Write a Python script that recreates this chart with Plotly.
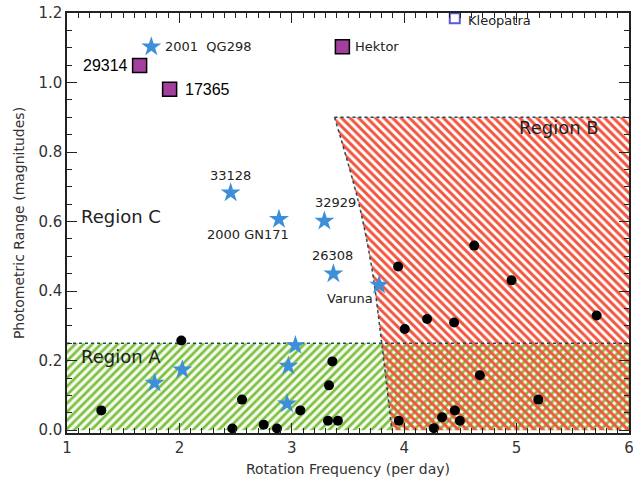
import plotly.graph_objects as go

# ---- data ----
dots_x = [1.305, 2.017, 2.557, 2.471, 2.75, 2.868, 3.076, 3.361, 3.331, 3.322, 3.41,
          3.946, 4.005, 4.204, 4.444, 4.623, 4.955, 5.712, 4.673, 5.193, 3.952, 4.264,
          4.337, 4.451, 4.495]
dots_y = [0.057, 0.258, 0.088, 0.005, 0.016, 0.005, 0.057, 0.198, 0.129, 0.027, 0.027,
          0.471, 0.291, 0.32, 0.31, 0.531, 0.431, 0.33, 0.158, 0.088, 0.027, 0.006,
          0.037, 0.057, 0.027]

stars_x = [1.75, 2.456, 2.886, 3.29, 3.37, 3.777, 1.779, 2.026, 3.032, 2.969, 2.957]
stars_y = [1.103, 0.683, 0.607, 0.602, 0.45, 0.418, 0.136, 0.174, 0.244, 0.185, 0.076]

sq_names = ["29314", "17365", "Hektor"]
sq_x = [1.646, 1.913, 3.45]
sq_y = [1.049, 0.981, 1.103]

open_x = [4.45]
open_y = [1.185]

# region boundaries
regA_x = [1, 6, 6, 1]
regA_y = [0, 0, 0.25, 0.25]
curve_x = [3.38, 3.59, 3.71, 3.80, 3.89]
curve_y = [0.9, 0.66, 0.47, 0.25, 0.0]
regB_top = 0.9
regA_top = 0.25

# labels: text, x, y, anchor
labels = [
    ("2001  QG298", 1.85, 1.103, "left", 13),
    ("Hektor", 3.54, 1.103, "left", 13),
    ("Kleopatra", 4.55, 1.178, "left", 13),
    ("33128", 2.456, 0.734, "center", 13),
    ("2000 GN171", 2.607, 0.562, "center", 13),
    ("32929", 3.39, 0.654, "center", 13),
    ("26308", 3.364, 0.502, "center", 13),
    ("Varuna", 3.516, 0.378, "center", 13),
]
num_labels = [
    ("29314", 1.557, 1.048, "right"),
    ("17365", 2.03, 0.979, "left"),
]
region_labels = [
    ("Region C", 1.11, 0.614),
    ("Region A", 1.11, 0.211),
    ("Region B", 5.0, 0.872),
]

GREEN = "#7cc040"
RED = "#f2553e"
DOT = "#1d4b5c"
fig = go.Figure()

# Region A (green hatched)
fig.add_trace(go.Scatter(
    x=regA_x + [regA_x[0]], y=regA_y + [regA_y[0]], mode="none", fill="toself",
    fillcolor="rgba(0,0,0,0)",
    fillpattern=dict(shape="/", fgcolor=GREEN, bgcolor="#f7fbef", size=6, solidity=0.45,
                     fillmode="replace"),
    hoverinfo="skip", showlegend=False))

# Region B (red hatched)
bx = curve_x + [6, 6, curve_x[0]]
by = curve_y + [0, regB_top, curve_y[0]]
fig.add_trace(go.Scatter(
    x=bx, y=by, mode="none", fill="toself", fillcolor="rgba(0,0,0,0)",
    fillpattern=dict(shape="\\", fgcolor=RED, bgcolor="rgba(0,0,0,0)", size=6, solidity=0.5,
                     fillmode="replace"),
    hoverinfo="skip", showlegend=False))

# dotted borders
fig.add_trace(go.Scatter(x=[1, 6], y=[regA_top, regA_top], mode="lines",
                         line=dict(color=DOT, width=1.5, dash="dot"), hoverinfo="skip", showlegend=False))
fig.add_trace(go.Scatter(x=[curve_x[0], 6], y=[regB_top, regB_top], mode="lines",
                         line=dict(color=DOT, width=1.5, dash="dot"), hoverinfo="skip", showlegend=False))
fig.add_trace(go.Scatter(x=curve_x, y=curve_y, mode="lines",
                         line=dict(color=DOT, width=1.5, dash="dot", shape="spline"),
                         hoverinfo="skip", showlegend=False))

# points
fig.add_trace(go.Scatter(x=dots_x, y=dots_y, mode="markers",
                         marker=dict(symbol="circle", size=10, color="black"),
                         cliponaxis=False, showlegend=False))
fig.add_trace(go.Scatter(x=stars_x, y=stars_y, mode="markers",
                         marker=dict(symbol="star", size=15, color="#3d8fd8", line=dict(width=0)),
                         cliponaxis=False, showlegend=False))
fig.add_trace(go.Scatter(x=sq_x, y=sq_y, mode="markers",
                         marker=dict(symbol="square", size=14, color="#a3409e",
                                     line=dict(color="black", width=1.5)),
                         cliponaxis=False, showlegend=False))
fig.add_trace(go.Scatter(x=open_x, y=open_y, mode="markers",
                         marker=dict(symbol="square-open", size=10, color="#5a5ad8",
                                     line=dict(width=2)),
                         cliponaxis=False, showlegend=False))

LBL_FONT = "DejaVu Sans"
for t, x, y, anc, sz in labels:
    fig.add_annotation(x=x, y=y, text=t, showarrow=False, xanchor=anc, yanchor="middle",
                       font=dict(family=LBL_FONT, size=sz, color="#222222"))
for t, x, y, anc in num_labels:
    fig.add_annotation(x=x, y=y, text=t, showarrow=False, xanchor=anc, yanchor="middle",
                       font=dict(family="Liberation Sans", size=16, color="black"))
for t, x, y in region_labels:
    fig.add_annotation(x=x, y=y, text=t, showarrow=False, xanchor="left", yanchor="middle",
                       font=dict(family=LBL_FONT, size=18, color="#222222"))

axis_common = dict(showgrid=False, zeroline=False, showline=True, linecolor="#222222",
                   linewidth=1.5, mirror="allticks", ticks="inside", ticklen=10,
                   tickcolor="#222222", tickwidth=1.2, automargin=False,
                   ticklabeloverflow="allow",
                   tickfont=dict(family=LBL_FONT, size=15, color="#333333"))

fig.update_xaxes(range=[1, 6], tick0=1, dtick=1,
                 minor=dict(ticks="inside", ticklen=5, dtick=0.1, tickcolor="#222222"),
                 title=dict(text="Rotation Frequency (per day)", standoff=8,
                            font=dict(family=LBL_FONT, size=14, color="#333333")),
                 **axis_common)
fig.update_yaxes(range=[-0.008, 1.2], tick0=0, dtick=0.2, tickformat=".1f",
                 minor=dict(ticks="inside", ticklen=5, dtick=0.05, tickcolor="#222222"),
                 title=dict(text="Photometric Range (magnitudes)", standoff=10,
                            font=dict(family=LBL_FONT, size=14, color="#333333")),
                 **axis_common)

fig.update_layout(width=633, height=483, margin=dict(l=67, r=4, t=13, b=50),
                  plot_bgcolor="white", paper_bgcolor="white")

fig.write_html("out.html", config={"displayModeBar": False},
               post_script="document.body.style.margin='0';document.body.style.overflow='hidden';")
